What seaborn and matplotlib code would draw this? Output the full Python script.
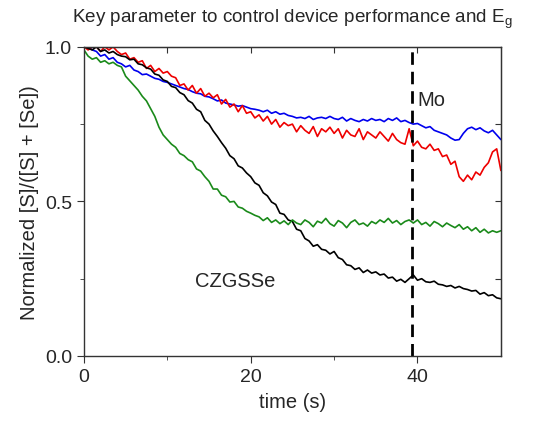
import numpy as np
import pandas as pd
import matplotlib
matplotlib.use("Agg")
import matplotlib.pyplot as plt
import seaborn as sns

# time axis, one reading every 0.5 s
time_s = [i * 0.5 for i in range(101)]

blue_vals = [
    1.0, 1.0, 0.99, 0.985, 0.97, 0.975, 0.96, 0.965, 0.95, 0.945,
    0.935, 0.94, 0.925, 0.92, 0.91, 0.912, 0.905, 0.898, 0.895, 0.888,
    0.885, 0.88, 0.875, 0.87, 0.865, 0.862, 0.855, 0.85, 0.848, 0.84,
    0.838, 0.832, 0.825, 0.828, 0.818, 0.815, 0.812, 0.808, 0.81, 0.805,
    0.80, 0.798, 0.795, 0.79, 0.795, 0.785, 0.79, 0.782, 0.785, 0.778,
    0.775, 0.77, 0.772, 0.768, 0.775, 0.765, 0.77, 0.772, 0.768, 0.775,
    0.768, 0.765, 0.772, 0.76, 0.768, 0.762, 0.758, 0.765, 0.76, 0.768,
    0.762, 0.765, 0.758, 0.768, 0.762, 0.77, 0.758, 0.762, 0.755, 0.75,
    0.752, 0.745, 0.738, 0.742, 0.73, 0.725, 0.72, 0.715, 0.705, 0.698,
    0.70, 0.72, 0.735, 0.74, 0.732, 0.738, 0.728, 0.722, 0.73, 0.715,
    0.70,
]

red_vals = [
    1.0, 0.99, 1.0, 1.0, 0.985, 1.0, 0.99, 1.0, 0.985, 0.975,
    0.98, 0.96, 0.965, 0.95, 0.955, 0.93, 0.94, 0.92, 0.93, 0.915,
    0.92, 0.905, 0.9, 0.875, 0.88, 0.86, 0.875, 0.85, 0.865, 0.84,
    0.85, 0.835, 0.845, 0.815, 0.83, 0.805, 0.815, 0.79, 0.81, 0.785,
    0.79, 0.77, 0.78, 0.76, 0.775, 0.75, 0.765, 0.74, 0.755, 0.745,
    0.75, 0.725, 0.745, 0.73, 0.72, 0.742, 0.71, 0.735, 0.725, 0.74,
    0.72, 0.735, 0.705, 0.73, 0.715, 0.71, 0.735, 0.70, 0.725, 0.715,
    0.705, 0.725, 0.71, 0.695, 0.72, 0.70, 0.69, 0.685, 0.735, 0.68,
    0.695, 0.675, 0.67, 0.685, 0.665, 0.67, 0.645, 0.65, 0.62, 0.63,
    0.58, 0.565, 0.585, 0.57, 0.595, 0.585, 0.61, 0.625, 0.66, 0.67,
    0.60,
]

black_vals = [
    1.0, 0.995, 0.99, 1.0, 0.985, 0.99, 0.98, 0.985, 0.975, 0.97,
    0.968, 0.958, 0.96, 0.945, 0.942, 0.932, 0.928, 0.912, 0.908, 0.893,
    0.888, 0.872, 0.868, 0.852, 0.845, 0.826, 0.818, 0.798, 0.79, 0.762,
    0.75, 0.728, 0.71, 0.69, 0.672, 0.648, 0.638, 0.615, 0.608, 0.592,
    0.58, 0.56, 0.552, 0.528, 0.518, 0.498, 0.49, 0.462, 0.458, 0.44,
    0.435, 0.41, 0.405, 0.38, 0.372, 0.355, 0.36, 0.345, 0.342, 0.33,
    0.338, 0.318, 0.312, 0.295, 0.292, 0.28, 0.285, 0.27, 0.278, 0.268,
    0.272, 0.262, 0.265, 0.252, 0.255, 0.242, 0.248, 0.238, 0.25, 0.262,
    0.245, 0.25, 0.24, 0.238, 0.242, 0.232, 0.23, 0.225, 0.228, 0.22,
    0.225, 0.218, 0.215, 0.21, 0.212, 0.2, 0.205, 0.195, 0.198, 0.188,
    0.185,
]

green_vals = [
    0.99, 0.97, 0.96, 0.965, 0.95, 0.955, 0.945, 0.95, 0.94, 0.935,
    0.905, 0.89, 0.875, 0.86, 0.84, 0.825, 0.80, 0.775, 0.74, 0.715,
    0.70, 0.685, 0.675, 0.655, 0.648, 0.635, 0.628, 0.605, 0.598, 0.58,
    0.565, 0.54, 0.54, 0.52, 0.515, 0.498, 0.50, 0.482, 0.478, 0.468,
    0.462, 0.455, 0.45, 0.438, 0.447, 0.432, 0.44, 0.428, 0.437, 0.425,
    0.44, 0.43, 0.425, 0.44, 0.432, 0.418, 0.436, 0.43, 0.445, 0.428,
    0.42, 0.438, 0.43, 0.415, 0.432, 0.44, 0.425, 0.43, 0.42, 0.435,
    0.428, 0.44, 0.432, 0.445, 0.43, 0.438, 0.425, 0.435, 0.44, 0.43,
    0.44, 0.425, 0.432, 0.42, 0.435, 0.428, 0.418, 0.43, 0.422, 0.415,
    0.425, 0.41, 0.418, 0.405, 0.415, 0.40, 0.41, 0.398, 0.405, 0.40,
    0.405,
]

series_names = ["blue", "red", "black", "green"]
series_colors = ["#0000ee", "#ee0000", "#000000", "#1a8a1a"]
mo_time = 39.4

frames = []
for name, vals in zip(series_names, [blue_vals, red_vals, black_vals, green_vals]):
    frames.append(pd.DataFrame({"time": time_s, "ratio": vals, "series": name}))
df = pd.concat(frames, ignore_index=True)

sns.set_style("ticks")
plt.rcParams["font.family"] = ["Liberation Sans", "DejaVu Sans"]

fig = plt.figure(figsize=(5.38, 4.27), dpi=100)
ax = fig.add_axes([0.156, 0.164, 0.775, 0.724])

sns.lineplot(data=df, x="time", y="ratio", hue="series",
             palette=dict(zip(series_names, series_colors)),
             linewidth=1.2, legend=False, ax=ax)

ax.axvline(mo_time, color="black", linewidth=2, linestyle=(0, (4.5, 2.5)))

ax.set_xlim(0, 50)
ax.set_ylim(0, 1.0)
ax.set_xticks([0, 20, 40])
ax.set_xticks([10, 30], minor=True)
ax.set_yticks([0.0, 0.5, 1.0])
ax.set_yticks([0.25, 0.75], minor=True)
ax.set_yticklabels(["0.0", "0.5", "1.0"])
ax.tick_params(which="both", direction="out", labelsize=14, color="#333333")
ax.tick_params(which="major", length=5)
ax.tick_params(which="minor", length=3)

# mirrored inward ticks on top and right
top = ax.secondary_xaxis("top")
top.set_xticks([10, 20, 30, 40])
top.tick_params(direction="in", labeltop=False, length=4, color="#333333")
right = ax.secondary_yaxis("right")
right.set_yticks([0.25, 0.5, 0.75])
right.tick_params(direction="in", labelright=False, length=4, color="#333333")

for spine in ax.spines.values():
    spine.set_linewidth(1.0)
    spine.set_color("#333333")

ax.set_xlabel("time (s)", fontsize=14.5, labelpad=5)
ax.set_ylabel("Normalized [S]/([S] + [Se])", fontsize=14.5, labelpad=4)

ax.text(40.0, 0.83, "Mo", fontsize=14.5, va="center", ha="left")
ax.text(13.3, 0.245, "CZGSSe", fontsize=14.5, va="center", ha="left")

fig.text(72 / 538, 1 - 23 / 427,
         "Key parameter to control device performance and E$_\\mathregular{g}$",
         fontsize=13.6, va="baseline", ha="left")

fig.savefig("out.png", dpi=100)
